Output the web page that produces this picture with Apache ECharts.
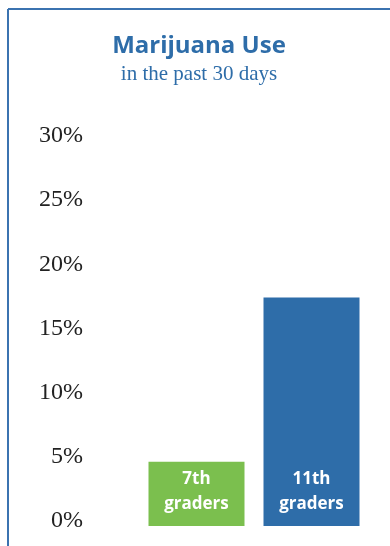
<!DOCTYPE html>
<html lang="en">
<head>
    <meta charset="UTF-8">
    <title>Marijuana Use</title>
    <style>
        html, body { margin: 0; padding: 0; background: #fff; }
    </style>
</head>
<body>
    <div id="chart" style="width:390px;height:546px;"></div>

    <script src="https://cdn.jsdelivr.net/npm/echarts@6/dist/echarts.min.js"></script>
    <script>
    var categories = ['7th\ngraders', '11th\ngraders'];
    var values = [5.0, 17.8];
    var barColors = ['#7bbf4e', '#2e6da9'];

    var chart = echarts.init(document.getElementById('chart'));

    chart.setOption({
        animation: false,
        title: {
            text: 'Marijuana Use',
            subtext: 'in the past 30 days',
            left: 194,
            textAlign: 'center',
            top: 29,
            itemGap: 6,
            textStyle: {
                fontFamily: 'Open Sans',
                fontWeight: 'bold',
                fontSize: 24,
                color: '#2e6da9'
            },
            subtextStyle: {
                fontFamily: 'Liberation Serif',
                fontSize: 21,
                color: '#2e6da9'
            }
        },
        graphic: [
            { type: 'line', shape: { x1: 8, y1: 9, x2: 390, y2: 9 }, style: { stroke: '#3b73b0', lineWidth: 2 } },
            { type: 'line', shape: { x1: 8, y1: 9, x2: 8, y2: 546 }, style: { stroke: '#3b73b0', lineWidth: 2 } }
        ],
        grid: { left: 139, right: 21, top: 141, bottom: 20 },
        xAxis: {
            type: 'category',
            data: categories,
            axisLine: { show: false },
            axisTick: { show: false },
            axisLabel: { show: false }
        },
        yAxis: {
            type: 'value',
            min: 0,
            max: 30,
            interval: 5,
            splitLine: { show: false },
            axisLine: { show: false },
            axisTick: { show: false },
            axisLabel: {
                formatter: '{value}%',
                margin: 56,
                verticalAlign: 'bottom',
                lineHeight: 10,
                fontFamily: 'Liberation Serif',
                fontSize: 24,
                color: '#222'
            }
        },
        series: [{
            type: 'bar',
            barWidth: 96,
            data: values.map(function (v, i) {
                return { value: v, itemStyle: { color: barColors[i] } };
            }),
            label: {
                show: true,
                position: 'insideBottom',
                distance: 9,
                formatter: '{b}',
                fontFamily: 'Open Sans',
                fontWeight: 'bold',
                fontSize: 17,
                lineHeight: 25,
                color: '#fff'
            }
        }]
    });
    </script>
</body>
</html>
